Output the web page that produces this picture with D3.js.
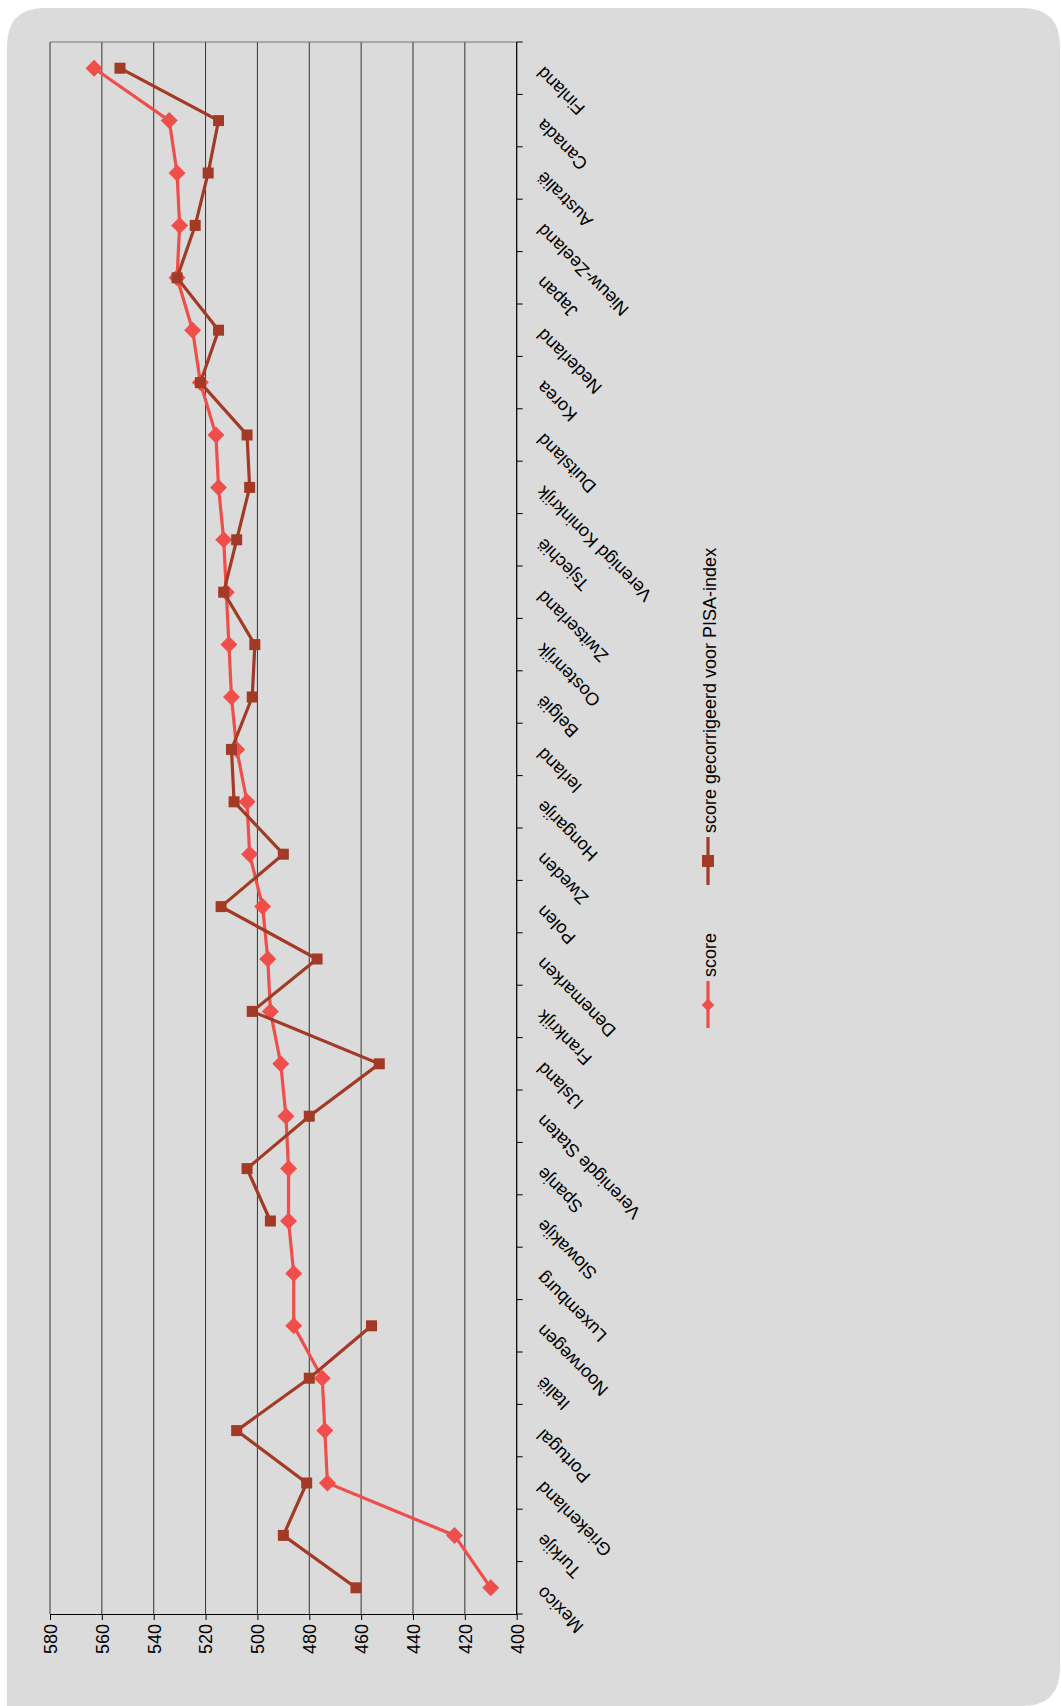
<!DOCTYPE html>
<html>
<head>
<meta charset="utf-8" />
<title>PISA scores</title>
<style>
body { margin: 0; background: #fff; }
svg text { font-family: "Liberation Sans", Arial, sans-serif; font-size: 18px; fill: #000; }
</style>
</head>
<body>
<svg width="1061" height="1706"></svg>
<script src="https://d3js.org/d3.v7.min.js"></script>
<script>

// data
var countries = ["Finland", "Canada", "Australië", "Nieuw-Zeeland", "Japan", "Nederland", "Korea",
  "Duitsland", "Verenigd Koninkrijk", "Tsjechië", "Zwitserland", "Oostenrijk", "België", "Ierland",
  "Hongarije", "Zweden", "Polen", "Denemarken", "Frankrijk", "IJsland", "Verenigde Staten", "Spanje",
  "Slowakije", "Luxemburg", "Noorwegen", "Italië", "Portugal", "Griekenland", "Turkije", "Mexico"];

var score = [563, 534, 531, 530, 531, 525, 522, 516, 515, 513, 512, 511, 510, 508,
  504, 503, 498, 496, 495, 491, 489, 488, 488, 486, 486, 475, 474, 473, 424, 410];

var scoreCorrected = [553, 515, 519, 524, 531, 515, 522, 504, 503, 508, 513, 501, 502, 510,
  509, 490, 514, 477, 502, 453, 480, 504, 495, null, 456, 480, 508, 481, 490, 462];

var valueTicks = [580, 560, 540, 520, 500, 480, 460, 440, 420, 400];

var seriesNames = ["score", "score gecorrigeerd voor PISA-index"];

var svg = d3.select("svg");

// grey panel with rounded corners (bottom-left square)
var px0 = 7, py0 = 8, px1 = 1060, py1 = 1706, rad = 38;
svg.append("path")
    .attr("d", "M" + px0 + "," + py1 +
      " L" + px0 + "," + (py0 + rad) +
      " Q" + px0 + "," + py0 + " " + (px0 + rad) + "," + py0 +
      " L" + (px1 - rad) + "," + py0 +
      " Q" + px1 + "," + py0 + " " + px1 + "," + (py0 + rad) +
      " L" + px1 + "," + (py1 - rad) +
      " Q" + px1 + "," + py1 + " " + (px1 - rad) + "," + py1 + " Z")
    .attr("fill", "#dbdbdb");

var plotLeft = 50, plotRight = 516.7, plotTop = 42, plotBottom = 1614;

var x = d3.scaleLinear().domain([580, 400]).range([plotLeft, plotRight]);
var y = d3.scaleBand().domain(countries).range([plotTop, plotBottom]);

var g = svg.append("g");

// gridlines
g.selectAll(".grid")
  .data(valueTicks)
  .enter().append("line")
    .attr("x1", function(d) { return x(d); })
    .attr("x2", function(d) { return x(d); })
    .attr("y1", plotTop)
    .attr("y2", plotBottom)
    .attr("stroke", "#333")
    .attr("stroke-width", 1);

g.append("line")
    .attr("x1", plotLeft).attr("x2", plotRight)
    .attr("y1", plotTop).attr("y2", plotTop)
    .attr("stroke", "#777");

// value axis (bottom)
var xAxis = g.append("g")
    .attr("transform", "translate(0," + plotBottom + ")")
    .call(d3.axisBottom(x).tickValues(valueTicks).tickSize(6).tickSizeOuter(0));
xAxis.select(".domain").attr("stroke", "#000");
xAxis.selectAll(".tick line").attr("stroke", "#000");
xAxis.selectAll(".tick text")
    .attr("transform", "rotate(-90)")
    .attr("x", -10)
    .attr("y", 0)
    .attr("dy", "0.35em")
    .attr("text-anchor", "end")
    .style("font-size", "18px")
    .style("font-family", "'Liberation Sans', Arial, sans-serif");

// category axis (right)
g.append("line")
    .attr("x1", plotRight).attr("x2", plotRight)
    .attr("y1", plotTop).attr("y2", plotBottom)
    .attr("stroke", "#000");

var bounds = countries.map(function(c) { return y(c); }).concat([plotBottom]);
g.selectAll(".ctick")
  .data(bounds)
  .enter().append("line")
    .attr("x1", plotRight).attr("x2", plotRight + 6)
    .attr("y1", function(d) { return d; })
    .attr("y2", function(d) { return d; })
    .attr("stroke", "#000");

g.selectAll(".clabel")
  .data(countries)
  .enter().append("text")
    .attr("transform", function(d) {
      return "translate(" + (plotRight + 23) + "," + (y(d) + y.bandwidth() / 2 + 2) + ") rotate(-135)";
    })
    .attr("text-anchor", "end")
    .attr("dy", "0.35em")
    .text(function(d) { return d; });

// lines
var scoreColor = "#ef4e4a", corrColor = "#a23a25";

function lineFor(vals) {
  return d3.line()
    .defined(function(d, i) { return vals[i] != null; })
    .x(function(d, i) { return x(vals[i]); })
    .y(function(d, i) { return y(countries[i]) + y.bandwidth() / 2; })(countries);
}

g.append("path")
    .attr("d", lineFor(score))
    .attr("fill", "none")
    .attr("stroke", scoreColor)
    .attr("stroke-width", 3.2);

g.selectAll(".diamond")
  .data(countries)
  .enter().append("rect")
    .attr("x", -6).attr("y", -6).attr("width", 12).attr("height", 12)
    .attr("fill", scoreColor)
    .attr("transform", function(d, i) {
      return "translate(" + x(score[i]) + "," + (y(d) + y.bandwidth() / 2) + ") rotate(45)";
    });

g.append("path")
    .attr("d", lineFor(scoreCorrected))
    .attr("fill", "none")
    .attr("stroke", corrColor)
    .attr("stroke-width", 3.2);

g.selectAll(".square")
  .data(countries.filter(function(d, i) { return scoreCorrected[i] != null; }))
  .enter().append("rect")
    .attr("x", function(d) { return x(scoreCorrected[countries.indexOf(d)]) - 5.5; })
    .attr("y", function(d) { return y(d) + y.bandwidth() / 2 - 5.5; })
    .attr("width", 11).attr("height", 11)
    .attr("fill", corrColor);

// legend
var lx = 708;
var legend = svg.append("g");

legend.append("line")
    .attr("x1", lx).attr("x2", lx).attr("y1", 837).attr("y2", 885)
    .attr("stroke", corrColor).attr("stroke-width", 3.2);
legend.append("rect")
    .attr("x", lx - 6).attr("y", 855).attr("width", 12).attr("height", 12)
    .attr("fill", corrColor);
legend.append("text")
    .attr("transform", "translate(" + (lx + 8) + ",833) rotate(-90)")
    .text(seriesNames[1]);

legend.append("line")
    .attr("x1", lx).attr("x2", lx).attr("y1", 981).attr("y2", 1028)
    .attr("stroke", scoreColor).attr("stroke-width", 3.2);
legend.append("rect")
    .attr("x", -4.5).attr("y", -4.5).attr("width", 9).attr("height", 9)
    .attr("fill", scoreColor)
    .attr("transform", "translate(" + lx + ",1005) rotate(45)");
legend.append("text")
    .attr("transform", "translate(" + (lx + 8) + ",977) rotate(-90)")
    .text(seriesNames[0]);

</script>
</body>
</html>
